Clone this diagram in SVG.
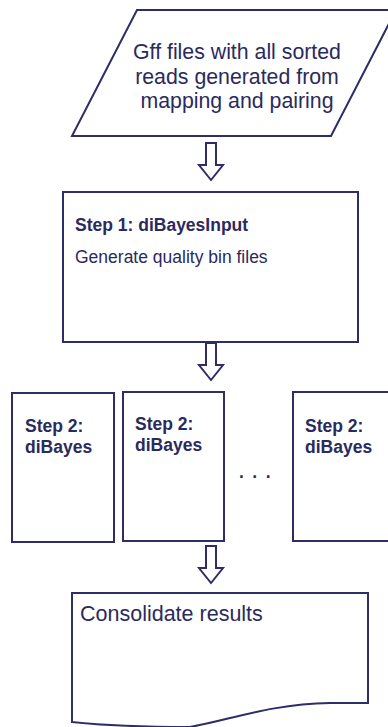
<svg xmlns="http://www.w3.org/2000/svg" width="388" height="727" viewBox="0 0 388 727">
<style>
.s{fill:#fff;stroke:#2f2d68;stroke-width:2}
.t{font-family:"Liberation Sans",Arial,sans-serif;fill:#2b2a5c}
.b{font-weight:bold;font-size:17.5px}
</style>
<defs>
<path id="arr" d="M-5,0 H5 V22 H12 L0,37 L-12,22 H-5 Z" class="s"/>
</defs>
<rect width="388" height="727" fill="#fff"/>
<g id="connectors">
<use href="#arr" x="211" y="143"/>
<use href="#arr" x="211" y="343"/>
<use href="#arr" x="211" y="546"/>
</g>
<g id="input">
<polygon class="s" points="137,10 396,10 331,136 72,136"/>
<text class="t" font-size="21.3" text-anchor="middle"><tspan x="237" y="59">Gff files with all sorted</tspan><tspan x="237" y="84">reads generated from</tspan><tspan x="237" y="108">mapping and pairing</tspan></text>
</g>
<g id="step1">
<rect class="s" x="63" y="192" width="295" height="150"/>
<text class="t b" x="75" y="231">Step 1: diBayesInput</text>
<text class="t" font-size="17.5" x="75" y="263">Generate quality bin files</text>
</g>
<g id="step2a">
<rect class="s" x="12" y="393" width="102" height="149"/>
<text class="t b" x="25" y="432">Step 2:</text>
<text class="t b" x="25" y="453">diBayes</text>
</g>
<g id="step2b">
<rect class="s" x="123" y="392" width="101" height="149"/>
<text class="t b" x="135" y="430">Step 2:</text>
<text class="t b" x="135" y="451">diBayes</text>
</g>
<g id="dots">
<text class="t b" x="239" y="478" letter-spacing="1.8">. . .</text>
</g>
<g id="step2c">
<rect class="s" x="293" y="392" width="100" height="149"/>
<text class="t b" x="305" y="432">Step 2:</text>
<text class="t b" x="305" y="453">diBayes</text>
</g>
<g id="consolidate">
<path class="s" d="M72,593 H368 V703 H330 C270,704 230,720 190,727 C150,727 110,726 72,722 Z"/>
<text class="t" font-size="21.5" x="80" y="621">Consolidate results</text>
</g>
</svg>
